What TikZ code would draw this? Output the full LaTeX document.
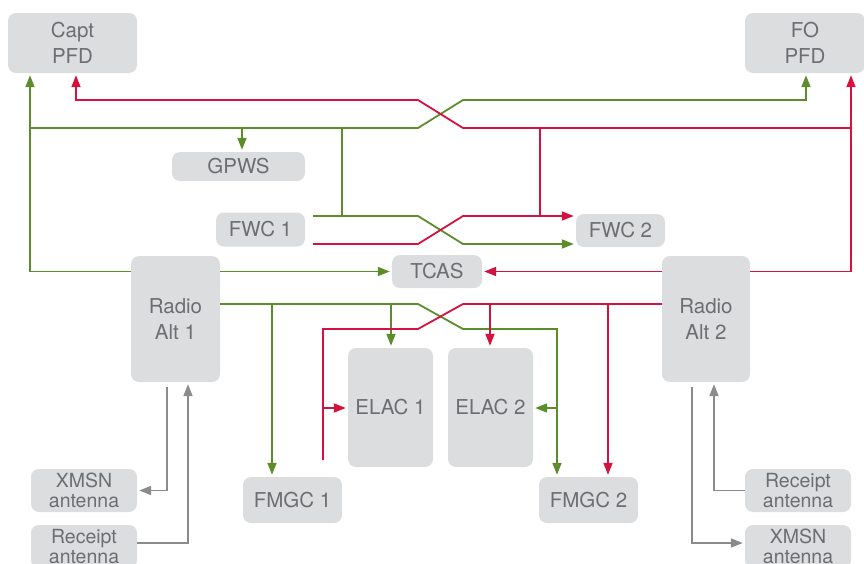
\documentclass[tikz,border=0pt]{standalone}
\usepackage{fontspec}
\setmainfont{TeX Gyre Heros}
\usetikzlibrary{arrows.meta}
\definecolor{gline}{HTML}{5C8D2A}
\definecolor{rline}{HTML}{D4123F}
\definecolor{kline}{HTML}{8A8B8D}
\definecolor{boxfill}{HTML}{DCDDDF}
\definecolor{boxtext}{HTML}{6D6E71}
\begin{document}
\begin{tikzpicture}[x=1pt,y=-1pt,
  unit/.style={fill=boxfill,rounded corners=8pt,inner sep=0pt,align=center,
    text=boxtext,font=\fontsize{20.5}{26}\selectfont},
  ant/.style={unit,font=\fontsize{19.5}{20}\selectfont},
  wire/.style={line width=1.8pt},
  gw/.style={wire,draw=gline},
  rw/.style={wire,draw=rline},
  kw/.style={wire,draw=kline},
  arr/.style={-{Triangle[length=12pt,width=9pt]},shorten >=2pt}
]
\useasboundingbox (0,0) rectangle (864,563);
% boxes
\node[unit,minimum width=129pt,minimum height=60pt] (capt) at (72.5,43) {Capt\\PFD};
\node[unit,minimum width=120pt,minimum height=60pt] (fo) at (805,43) {FO\\PFD};
\node[unit,minimum width=133pt,minimum height=29pt] (gpws) at (238.5,166.5) {GPWS};
\node[unit,minimum width=89pt,minimum height=34pt] (fwc1) at (260.5,229.5) {FWC 1};
\node[unit,minimum width=89pt,minimum height=33pt] (fwc2) at (620.5,230.5) {FWC 2};
\node[unit,minimum width=90pt,minimum height=33pt] (tcas) at (437,271.5) {TCAS};
\node[unit,minimum width=89pt,minimum height=126pt] (rad1) at (175.5,319) {Radio\\Alt 1};
\node[unit,minimum width=88pt,minimum height=126pt] (rad2) at (706,319) {Radio\\Alt 2};
\node[unit,minimum width=85pt,minimum height=119pt] (elac1) at (390.5,407.5) {ELAC 1};
\node[unit,minimum width=85pt,minimum height=119pt] (elac2) at (490.5,407.5) {ELAC 2};
\node[unit,minimum width=99pt,minimum height=46pt] (fmgc1) at (292.5,500) {FMGC 1};
\node[unit,minimum width=99pt,minimum height=46pt] (fmgc2) at (588.5,500) {FMGC 2};
\node[ant,minimum width=106pt,minimum height=43pt] (xmsnL) at (84,490.5) {XMSN\\antenna};
\node[ant,minimum width=106pt,minimum height=43pt] (rcptL) at (84,546.5) {Receipt\\antenna};
\node[ant,minimum width=106pt,minimum height=43pt] (rcptR) at (798,490.5) {Receipt\\antenna};
\node[ant,minimum width=106pt,minimum height=43pt] (xmsnR) at (798,546.5) {XMSN\\antenna};
% coordinates
\coordinate (gA) at (30,128);
\coordinate (gB) at (418,128);
\coordinate (gC) at (463,100);
\coordinate (gG) at (242,128);
\coordinate (gF) at (342,128);
\coordinate (gFd) at (342,216);
\coordinate (f1g) at (313,216);
\coordinate (f1r) at (313,244);
\coordinate (xg1) at (418,216);
\coordinate (xg2) at (463,244);
\coordinate (xr1) at (418,244);
\coordinate (xr2) at (463,216);
\coordinate (rA) at (851,128);
\coordinate (rB) at (463,128);
\coordinate (rC) at (418,100);
\coordinate (rF) at (540,128);
\coordinate (rFd) at (540,216);
\coordinate (g7a) at (418,304);
\coordinate (g7b) at (463,329);
\coordinate (g7c) at (557,329);
\coordinate (g8) at (272,304);
\coordinate (g9) at (391,304);
\coordinate (g10) at (557,408);
\coordinate (r6a) at (463,304);
\coordinate (r6b) at (418,329);
\coordinate (r6c) at (323,329);
\coordinate (r6d) at (323,460);
\coordinate (r7) at (323,408);
\coordinate (r8) at (490,304);
\coordinate (r9) at (608,304);
% green wires
\draw[gw,arr] (rad1.west |- tcas) -| ([xshift=-42.5pt]capt.south);
\draw[gw,arr] (gA) -- (gB) -- (gC) -| ([xshift=1pt]fo.south);
\draw[gw,arr] (gG) -- (gG |- gpws.north);
\draw[gw] (gF) -- (gFd);
\draw[gw,arr] (f1g) -- (xg1) -- (xg2) -- (fwc2.west |- xg2);
\draw[gw,arr] (rad1.east |- tcas) -- (tcas.west);
\draw[gw,arr] (rad1.east |- g7a) -- (g7a) -- (g7b) -- (g7c) -- (g7c |- fmgc2.north);
\draw[gw,arr] (g8) -- (g8 |- fmgc1.north);
\draw[gw,arr] (g9) -- (g9 |- elac1.north);
\draw[gw,arr] (g10) -- (elac2.east |- g10);
% red wires
\draw[rw,arr] (rad2.east |- tcas) -| ([xshift=46pt]fo.south);
\draw[rw,arr] (rad2.west |- tcas) -- (tcas.east);
\draw[rw,arr] (rA) -- (rB) -- (rC) -| ([xshift=3.5pt]capt.south);
\draw[rw] (rF) -- (rFd);
\draw[rw,arr] (f1r) -- (xr1) -- (xr2) -- (fwc2.west |- xr2);
\draw[rw] (rad2.west |- r6a) -- (r6a) -- (r6b) -- (r6c) -- (r6d);
\draw[rw,arr] (r7) -- (elac1.west |- r7);
\draw[rw,arr] (r8) -- (r8 |- elac2.north);
\draw[rw,arr] (r9) -- (r9 |- fmgc2.north);
% gray wires
\draw[kw,arr] ([xshift=-8.5pt,yshift=-5pt]rad1.south) |- (xmsnL.east);
\draw[kw,arr] ([yshift=3.5pt]rcptL.east) -| ([xshift=12.5pt]rad1.south);
\draw[kw,arr] ([xshift=-14pt,yshift=-5pt]rad2.south) |- ([yshift=3.5pt]xmsnR.west);
\draw[kw,arr] (rcptR.west) -| ([xshift=8pt]rad2.south);
\end{tikzpicture}
\end{document}
